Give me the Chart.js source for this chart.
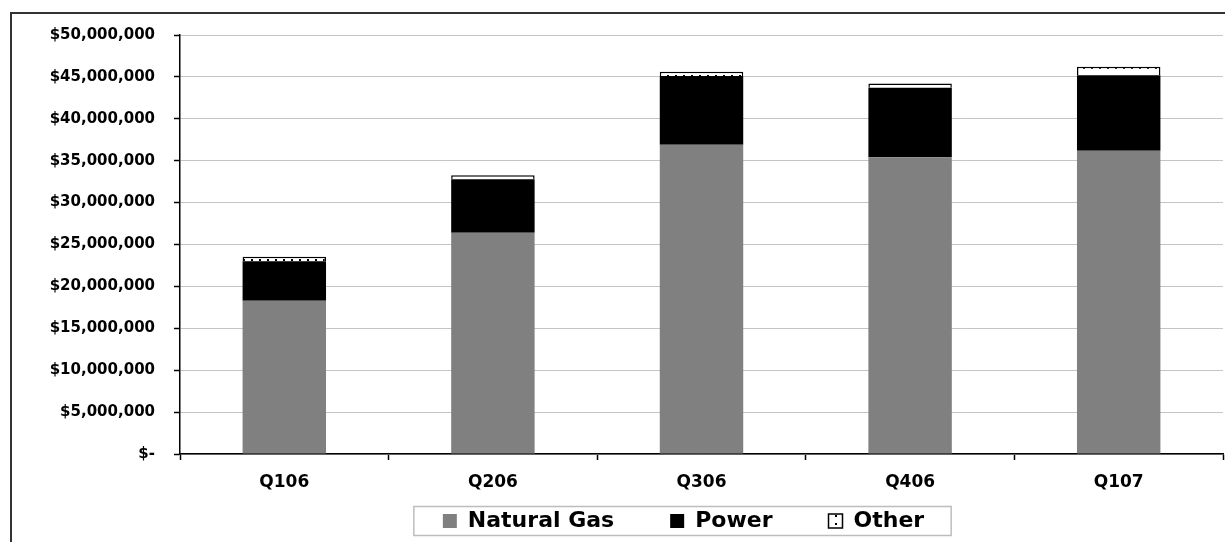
<!DOCTYPE html>
<html>
<head>
<meta charset="utf-8">
<script src="https://cdn.jsdelivr.net/npm/chart.js@4.4.1/dist/chart.umd.min.js"></script>
<style>
  html, body { margin: 0; padding: 0; background: #fff; }
  #wrap { position: absolute; left: 0; top: 0; width: 1225px; height: 542px; overflow: hidden; }
  #frame { position: absolute; left: 10px; top: 12px; width: 1300px; height: 700px;
           border-left: 2px solid #333; border-top: 2px solid #333; pointer-events: none; }
  canvas { position: absolute; left: 0; top: 0; }
</style>
</head>
<body>
<div id="wrap">
  <canvas id="c" width="1225" height="542"></canvas>
  <div id="frame"></div>
</div>
<script>
const categories = ['Q106', 'Q206', 'Q306', 'Q406', 'Q107'];
const naturalGas = [18300000, 26400000, 36900000, 35400000, 36200000];
const power = [4700000, 6400000, 8200000, 8300000, 9000000];
const other = [550000, 450000, 500000, 500000, 1000000];
const seriesNames = ['Natural Gas', 'Power', 'Other'];
const yMax = 50000000;
const yStep = 5000000;

function makePattern() {
  const c = document.createElement('canvas');
  c.width = 8; c.height = 8;
  const x = c.getContext('2d');
  x.fillStyle = '#fff'; x.fillRect(0, 0, 8, 8);
  x.fillStyle = '#000'; x.fillRect(3, 3, 2, 2);
  return x.createPattern(c, 'repeat');
}

const FONT = "'DejaVu Sans', 'Liberation Sans', Arial, sans-serif";

const legendFix = {
  id: 'legendFix',
  afterLayout(chart) {
    const lg = chart.legend;
    if (!lg) return;
    lg.top = 454;
    lg.bottom = 542;
    lg.left = 142;
    lg.right = 1225;
  },
  afterDraw(chart) {
    const lg = chart.legend;
    if (!lg || !lg.legendHitBoxes || !lg.legendHitBoxes.length) return;
    const hb = lg.legendHitBoxes;
    const first = hb[0], last = hb[hb.length - 1];
    const x0 = first.left - 29;
    const x1 = last.left + last.width + 27;
    const cy = first.top + first.height / 2;
    const ctx = chart.ctx;
    ctx.save();
    ctx.strokeStyle = '#bdbdbd';
    ctx.lineWidth = 1.5;
    ctx.strokeRect(x0, cy - 14.5, x1 - x0, 29);
    ctx.restore();
  }
};

new Chart(document.getElementById('c'), {
  type: 'bar',
  data: {
    labels: categories,
    datasets: [
      { label: seriesNames[0], data: naturalGas, backgroundColor: '#808080', borderWidth: 0 },
      { label: seriesNames[1], data: power, backgroundColor: '#000000', borderWidth: 0 },
      { label: seriesNames[2], data: other, backgroundColor: makePattern(), borderColor: '#000', borderWidth: 1.5 }
    ]
  },
  options: {
    responsive: false,
    animation: false,
    devicePixelRatio: 1,
    layout: { padding: { left: 0, right: 2, top: 35, bottom: 0 } },
    datasets: { bar: { barPercentage: 0.4, categoryPercentage: 1.0 } },
    scales: {
      x: {
        stacked: true,
        grid: { display: true, offset: true, drawOnChartArea: false, drawTicks: true, tickLength: 6, tickColor: '#000', tickWidth: 1.5 },
        border: { display: true, color: '#000', width: 1.5 },
        ticks: { color: '#000', font: { family: FONT, size: 17, weight: 'bold' }, padding: 12, maxRotation: 0 },
        afterFit(scale) { scale.height = 48; }
      },
      y: {
        stacked: true,
        min: 0,
        max: yMax,
        grid: { color: '#c4c4c4', lineWidth: 1, drawTicks: true, tickLength: 6, tickColor: '#000', tickWidth: 1.5 },
        border: { display: true, color: '#000', width: 1.5 },
        ticks: {
          stepSize: yStep,
          color: '#000',
          padding: 19,
          font: { family: FONT, size: 15, weight: 'bold' },
          callback: v => v === 0 ? '$-' : '$' + Number(v).toLocaleString('en-US')
        },
        afterFit(scale) { scale.width = 180; }
      }
    },
    plugins: {
      legend: {
        display: true,
        position: 'bottom',
        maxHeight: 40,
        labels: {
          color: '#000',
          boxWidth: 14,
          boxHeight: 14,
          padding: 56,
          font: { family: FONT, size: 22, weight: 'bold' }
        }
      },
      tooltip: { enabled: false },
      title: { display: false }
    }
  },
  plugins: [legendFix]
});
</script>
</body>
</html>
